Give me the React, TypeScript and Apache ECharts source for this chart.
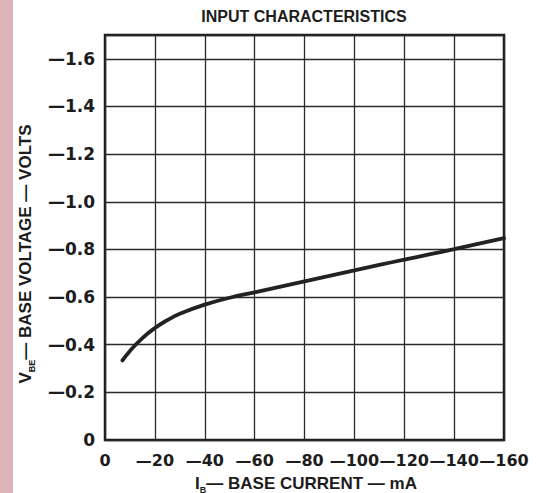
import React, { useEffect, useRef } from "react";
import * as echarts from "echarts";

const TITLE = "INPUT CHARACTERISTICS";
const X_TITLE_MAIN = "I";
const X_TITLE_SUB = "B";
const X_TITLE_REST = "— BASE CURRENT — mA";
const Y_TITLE_MAIN = "V";
const Y_TITLE_SUB = "BE";
const Y_TITLE_REST = "— BASE VOLTAGE — VOLTS";

// Magnitudes of the (negative) base current I_B, mA
const IB_MA = [7, 10, 15, 20, 25, 30, 40, 50, 60, 70, 80, 90, 100, 110, 120, 130, 140, 150, 160];
// Magnitudes of the (negative) base voltage V_BE, volts
const VBE_V = [0.334, 0.374, 0.428, 0.47, 0.503, 0.53, 0.568, 0.597, 0.62, 0.643, 0.666, 0.689, 0.712, 0.735, 0.757, 0.779, 0.801, 0.824, 0.847];

const X_MAX = 160;
const X_STEP = 20;
const Y_MAX = 1.7;
const Y_STEP = 0.2;

const FONT = "Liberation Sans";
const TICK_FONT = "DejaVu Sans";
const INK = "#1c1c1c";

export default function App() {
  const ref = useRef<HTMLDivElement>(null);
  useEffect(() => {
    if (!ref.current) return;
    const chart = echarts.init(ref.current, null, { renderer: "svg" });
    const data = IB_MA.map((x, i) => [x, VBE_V[i]]);
    chart.setOption({
      animation: false,
      backgroundColor: "#ffffff",
      grid: {
        left: 105,
        right: 34,
        top: 35,
        bottom: 53,
        show: true,
        borderColor: INK,
        borderWidth: 2.5,
        backgroundColor: "transparent",
      },
      xAxis: {
        type: "value",
        min: 0,
        max: X_MAX,
        interval: X_STEP,
        axisLine: { show: false },
        axisTick: { show: false },
        splitLine: { show: true, lineStyle: { color: "#2a2a2a", width: 1.3 } },
        axisLabel: {
          margin: 12,
          hideOverlap: false,
          showMaxLabel: true,
          fontFamily: TICK_FONT,
          fontWeight: "bold",
          fontSize: 16,
          color: INK,
          formatter: (v: number) => (v === 0 ? "0" : "—" + v),
        },
      },
      yAxis: {
        type: "value",
        min: 0,
        max: Y_MAX,
        interval: Y_STEP,
        axisLine: { show: false },
        axisTick: { show: false },
        splitLine: { show: true, lineStyle: { color: "#2a2a2a", width: 1.3 } },
        axisLabel: {
          margin: 10,
          showMaxLabel: false,
          fontFamily: TICK_FONT,
          fontWeight: "bold",
          fontSize: 17,
          color: INK,
          formatter: (v: number) => (v === 0 ? "0" : "—" + v.toFixed(1)),
        },
      },
      series: [
        {
          type: "line",
          data,
          smooth: 0.5,
          showSymbol: false,
          lineStyle: { color: "#222222", width: 3.8, cap: "round" },
        },
      ],
      graphic: [
        {
          type: "rect",
          shape: { x: 0, y: 0, width: 13, height: 493 },
          style: { fill: "#dbb3b8" },
          silent: true,
        },
        {
          type: "text",
          x: 304,
          y: 16,
          style: {
            text: TITLE,
            fontFamily: FONT,
            fontWeight: "bold",
            fontSize: 16,
            fill: INK,
            align: "center",
            verticalAlign: "middle",
          },
        },
        {
          type: "text",
          x: 306,
          y: 483,
          style: {
            text: `{m|${X_TITLE_MAIN}}{s|${X_TITLE_SUB}}{m|${X_TITLE_REST}}`,
            align: "center",
            verticalAlign: "middle",
            rich: {
              m: { fontFamily: FONT, fontWeight: "bold", fontSize: 17, fill: INK, lineHeight: 22, verticalAlign: "middle" },
              s: { fontFamily: FONT, fontWeight: "bold", fontSize: 9, fill: INK, lineHeight: 9, verticalAlign: "bottom" },
            },
          },
        },
        {
          type: "text",
          x: 25,
          y: 254,
          rotation: Math.PI / 2,
          style: {
            text: `{m|${Y_TITLE_MAIN}}{s|${Y_TITLE_SUB}}{m|${Y_TITLE_REST}}`,
            align: "center",
            verticalAlign: "middle",
            rich: {
              m: { fontFamily: FONT, fontWeight: "bold", fontSize: 17, fill: INK, lineHeight: 22, verticalAlign: "middle" },
              s: { fontFamily: FONT, fontWeight: "bold", fontSize: 9, fill: INK, lineHeight: 9, verticalAlign: "bottom" },
            },
          },
        },
      ],
    });
    return () => chart.dispose();
  }, []);
  return (
    <div
      ref={ref}
      style={{ position: "absolute", left: 0, top: 0, width: 538, height: 493 }}
    />
  );
}
